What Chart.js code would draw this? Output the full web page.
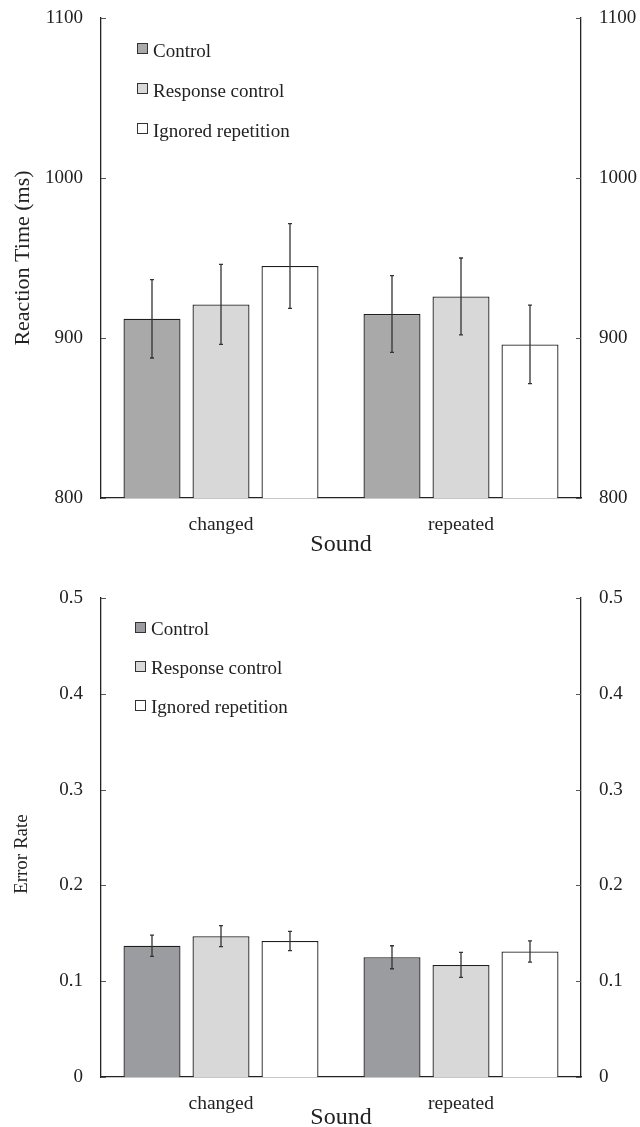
<!DOCTYPE html>
<html>
<head>
<meta charset="utf-8">
<script src="https://cdn.jsdelivr.net/npm/chart.js@4"></script>
<style>
  html, body { margin: 0; padding: 0; background: #fff; overflow: hidden; }
  #wrap1 { position: absolute; left: 0; top: 0; width: 640px; height: 560px; }
  #wrap2 { position: absolute; left: 0; top: 560px; width: 640px; height: 567px; }
</style>
</head>
<body>
<div id="wrap1"><canvas id="c1" width="640" height="560"></canvas></div>
<div id="wrap2"><canvas id="c2" width="640" height="567"></canvas></div>
<script>
// ---- data ----
const categories = ['changed', 'repeated'];
const seriesNames = ['Control', 'Response control', 'Ignored repetition'];

const rtControl  = [912, 915];
const rtResponse = [921, 926];
const rtIgnored  = [945, 896];
const rtControlErr  = [24.5, 24];
const rtResponseErr = [25, 24];
const rtIgnoredErr  = [26.5, 24.5];
const rtTicks = [800, 900, 1000, 1100];

const erControl  = [0.137, 0.125];
const erResponse = [0.147, 0.117];
const erIgnored  = [0.142, 0.131];
const erControlErr  = [0.011, 0.012];
const erResponseErr = [0.011, 0.013];
const erIgnoredErr  = [0.010, 0.011];
const erTicks = [0, 0.1, 0.2, 0.3, 0.4, 0.5];

const FONT = "'Liberation Serif', 'DejaVu Serif', serif";
const INK = '#222';

// error bars plugin
const errorBarPlugin = {
  id: 'errorBars',
  afterDatasetsDraw(chart) {
    const ctx = chart.ctx;
    const y = chart.scales.y;
    chart.data.datasets.forEach((ds, di) => {
      const meta = chart.getDatasetMeta(di);
      meta.data.forEach((bar, i) => {
        const v = ds.data[i], e = ds.errors[i];
        const yTop = y.getPixelForValue(v + e);
        const yBot = y.getPixelForValue(v - e);
        ctx.save();
        ctx.strokeStyle = '#333';
        ctx.lineWidth = 1.3;
        ctx.beginPath();
        ctx.moveTo(bar.x, yTop); ctx.lineTo(bar.x, yBot);
        ctx.moveTo(bar.x - 2, yTop); ctx.lineTo(bar.x + 2, yTop);
        ctx.moveTo(bar.x - 2, yBot); ctx.lineTo(bar.x + 2, yBot);
        ctx.stroke();
        ctx.restore();
      });
    });
  }
};

// inward tick marks
const inwardTicksPlugin = {
  id: 'inwardTicks',
  afterDraw(chart) {
    const ctx = chart.ctx;
    const a = chart.chartArea;
    ctx.save();
    ctx.strokeStyle = '#555';
    ctx.lineWidth = 1;
    ['y', 'y2'].forEach(id => {
      const s = chart.scales[id];
      s.ticks.forEach(t => {
        const py = Math.round(s.getPixelForValue(t.value)) + 0.5;
        ctx.beginPath();
        if (id === 'y') { ctx.moveTo(a.left, py); ctx.lineTo(a.left + 5, py); }
        else { ctx.moveTo(a.right - 5, py); ctx.lineTo(a.right, py); }
        ctx.stroke();
      });
    });
    ctx.restore();
  }
};

// legend inside chart area
const innerLegendPlugin = {
  id: 'innerLegend',
  afterDraw(chart, args, opts) {
    const ctx = chart.ctx;
    const a = chart.chartArea;
    ctx.save();
    ctx.font = '19px ' + FONT;
    ctx.textBaseline = 'alphabetic';
    chart.data.datasets.forEach((ds, i) => {
      const bx = a.left + opts.boxLeft;
      const by = a.top + opts.boxTop + i * opts.spacing;
      ctx.fillStyle = ds.backgroundColor;
      ctx.fillRect(bx, by, 11, 11);
      ctx.strokeStyle = '#333';
      ctx.lineWidth = 1;
      ctx.strokeRect(bx + 0.5, by + 0.5, 10, 10);
      ctx.fillStyle = INK;
      ctx.fillText(ds.label, bx + 16, a.top + opts.baseline + i * opts.spacing);
    });
    ctx.restore();
  }
};

function makeChart(canvasId, cfg) {
  const ticksArr = cfg.ticks;
  const yCommon = {
    type: 'linear',
    min: ticksArr[0],
    max: ticksArr[ticksArr.length - 1],
    afterBuildTicks: s => { s.ticks = ticksArr.map(v => ({ value: v })); },
    grid: { display: false, drawTicks: false },
    border: { display: true, color: INK, width: 1.3 },
    ticks: { padding: 18, color: INK, font: { family: FONT, size: 19 },
             callback: v => String(v) }
  };
  return new Chart(document.getElementById(canvasId), {
    type: 'bar',
    data: {
      labels: categories,
      datasets: cfg.series.map((vals, i) => ({
        label: seriesNames[i],
        data: vals,
        errors: cfg.errors[i],
        backgroundColor: cfg.colors[i],
        borderColor: '#1e1e1e',
        borderWidth: 1.3,
        categoryPercentage: 0.8625,
        barPercentage: 0.826
      }))
    },
    options: {
      responsive: false,
      animation: false,
      events: [],
      layout: { padding: { top: cfg.padTop, left: 0, right: 0, bottom: 0 } },
      plugins: {
        legend: { display: false },
        tooltip: { enabled: false },
        innerLegend: cfg.legend
      },
      scales: {
        x: {
          grid: { display: false, drawTicks: false },
          border: { display: true, color: INK, width: 1.3 },
          ticks: { padding: cfg.xTickPad, color: INK, font: { family: FONT, size: 19.5 } },
          title: { display: true, text: 'Sound', color: INK,
                   font: { family: FONT, size: 24, lineHeight: cfg.titleLH },
                   padding: { top: 0, bottom: cfg.titlePadBottom } },
          afterFit: s => { s.height = cfg.xHeight; }
        },
        y: Object.assign({}, yCommon, {
          position: 'left',
          title: { display: true, text: cfg.yTitle, color: INK,
                   font: { family: FONT, size: cfg.yTitleSize },
                   padding: { top: cfg.yTitlePad, bottom: 0 } },
          afterFit: s => { s.width = 101; s.paddingTop = 0; s.paddingBottom = 0; }
        }),
        y2: Object.assign({}, yCommon, {
          position: 'right',
          afterFit: s => { s.width = 59; s.paddingTop = 0; s.paddingBottom = 0; }
        })
      }
    },
    plugins: [errorBarPlugin, inwardTicksPlugin, innerLegendPlugin]
  });
}

makeChart('c1', {
  ticks: rtTicks,
  series: [rtControl, rtResponse, rtIgnored],
  errors: [rtControlErr, rtResponseErr, rtIgnoredErr],
  colors: ['#a9a9a9', '#d8d8d8', '#ffffff'],
  padTop: 18,
  xHeight: 62,
  xTickPad: 15,
  titleLH: 1.2,
  titlePadBottom: 1,
  yTitle: 'Reaction Time (ms)',
  yTitleSize: 22,
  yTitlePad: 10,
  legend: { boxLeft: 36, boxTop: 25, baseline: 39, spacing: 40 }
});

makeChart('c2', {
  ticks: erTicks,
  series: [erControl, erResponse, erIgnored],
  errors: [erControlErr, erResponseErr, erIgnoredErr],
  colors: ['#9b9ca0', '#d8d8d8', '#ffffff'],
  padTop: 38,
  xHeight: 50,
  xTickPad: 15,
  titleLH: 0.75,
  titlePadBottom: 0,
  yTitle: 'Error Rate\u00a0\u00a0\u00a0\u00a0\u00a0\u00a0\u00a0',
  yTitleSize: 19,
  yTitlePad: 11,
  legend: { boxLeft: 34, boxTop: 24, baseline: 37, spacing: 39 }
});
</script>
</body>
</html>
